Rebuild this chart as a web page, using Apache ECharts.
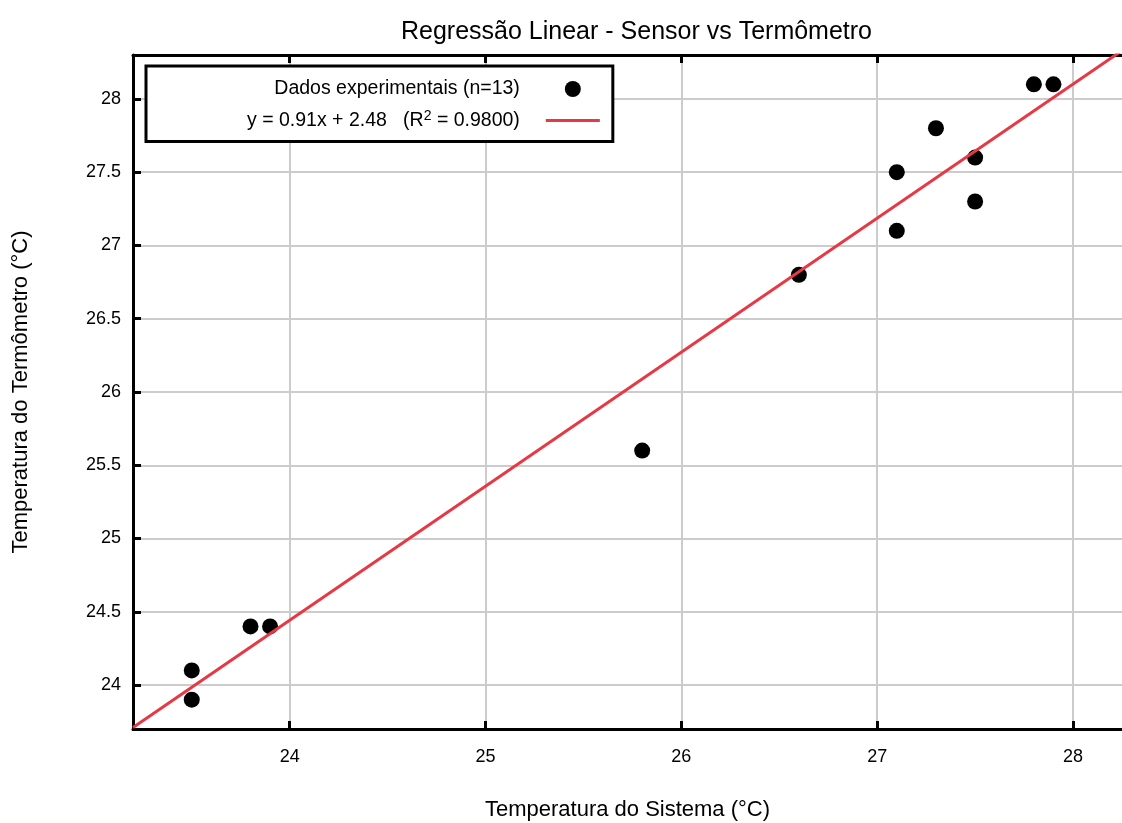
<!DOCTYPE html>
<html lang="pt">
<head>
    <meta charset="UTF-8">
    <title>Regressão Linear</title>
    <script src="https://cdn.jsdelivr.net/npm/echarts@6/dist/echarts.min.js"></script>
    <style>
        *{ margin: 0; padding: 0; }
        html,body{ width: 100%; height: 100%; background: #fff; }
        .container{ width: 1122px; height: 823px; }
    </style>
</head>
<body>
<div class="container"></div>
<script>
    // leituras do sensor (x) e do termômetro (y)
    let sensorTemp = [23.5, 23.5, 23.8, 23.9, 25.8, 26.6, 27.1, 27.1, 27.3, 27.5, 27.5, 27.8, 27.9];
    let thermoTemp = [24.1, 23.9, 24.4, 24.4, 25.6, 26.8, 27.5, 27.1, 27.8, 27.6, 27.3, 28.1, 28.1];
    // extremos da reta de regressão
    let fitX = [23.2, 28.25];
    let fitY = [23.71, 28.33];
    let xTicks = [24, 25, 26, 27, 28];
    let yTicks = [24, 24.5, 25, 25.5, 26, 26.5, 27, 27.5, 28];

    let font = 'Liberation Sans, Arial, sans-serif';
    let chart = echarts.init(document.querySelector('.container'));

    let points = sensorTemp.map((x, i) => [x, thermoTemp[i]]);
    let fitLine = fitX.map((x, i) => [x, fitY[i]]);

    let frame = {
        axisLine: { show: true, onZero: false, lineStyle: { color: '#000', width: 3 } },
        axisTick: { show: true, inside: true, length: 8, lineStyle: { color: '#000', width: 3 } }
    };

    let option = {
        backgroundColor: '#fff',
        animation: false,
        title: {
            text: 'Regressão Linear - Sensor vs Termômetro',
            left: 396,
            top: 15,
            textStyle: { fontFamily: font, fontSize: 25, fontWeight: 'normal', color: '#000' }
        },
        grid: { left: 133, right: 0, top: 55, bottom: 94, outerBoundsMode: 'none' },
        legend: {
            left: 146,
            top: 66,
            orient: 'vertical',
            align: 'right',
            itemGap: 10,
            padding: [13, 13, 11, 101],
            itemWidth: 54,
            itemHeight: 16,
            borderColor: '#000',
            borderWidth: 3,
            backgroundColor: '#fff',
            textStyle: {
                fontFamily: font, fontSize: 19.5, color: '#000',
                rich: {
                    sup: { fontFamily: font, fontSize: 14, color: '#000', verticalAlign: 'bottom', padding: [0, 0, 9, 0] },
                    n: { fontFamily: font, fontSize: 19.5, color: '#000' },
                    e: { fontFamily: font, fontSize: 19.5, color: '#000', padding: [0, 21, 0, 0] }
                }
            },
            formatter: function (name) {
                if (name.indexOf('R2') > -1) {
                    return '{n|y = 0.91x + 2.48   (R}{sup|2}{e| = 0.9800)}';
                }
                return '{e|' + name + '}';
            },
            data: [
                { name: 'Dados experimentais (n=13)', icon: 'circle' },
                { name: 'R2', icon: 'path://M0,0 L54,0 L54,3 L0,3 Z', itemStyle: { color: '#e63946' } }
            ]
        },
        xAxis: [{
            type: 'value',
            min: 23.2,
            max: 28.25,
            name: 'Temperatura do Sistema (°C)',
            nameLocation: 'middle',
            nameGap: 70,
            nameTextStyle: { fontFamily: font, fontSize: 22, color: '#000' },
            axisLine: frame.axisLine,
            axisTick: Object.assign({ customValues: xTicks }, frame.axisTick),
            axisLabel: { customValues: xTicks, margin: 19, fontFamily: font, fontSize: 18, color: '#000' },
            splitLine: { show: true, lineStyle: { color: '#cccccc', width: 2 } }
        }, {
            type: 'value',
            position: 'top',
            min: 23.2,
            max: 28.25,
            axisLine: frame.axisLine,
            axisTick: Object.assign({ customValues: xTicks }, frame.axisTick),
            axisLabel: { show: false, customValues: xTicks },
            splitLine: { show: false }
        }],
        yAxis: {
            type: 'value',
            min: 23.7,
            max: 28.3,
            name: 'Temperatura do Termômetro (°C)',
            nameLocation: 'middle',
            nameGap: 101,
            nameTextStyle: { fontFamily: font, fontSize: 22, color: '#000' },
            axisLine: frame.axisLine,
            axisTick: Object.assign({ customValues: yTicks }, frame.axisTick),
            axisLabel: { customValues: yTicks, margin: 12, fontFamily: font, fontSize: 18, color: '#000' },
            splitLine: { show: true, lineStyle: { color: '#cccccc', width: 2 } }
        },
        series: [{
            name: 'Dados experimentais (n=13)',
            type: 'scatter',
            data: points,
            symbolSize: 16,
            itemStyle: { color: '#000', opacity: 1 },
            z: 3
        }, {
            name: 'R2',
            type: 'line',
            data: fitLine,
            showSymbol: false,
            symbol: 'none',
            clip: true,
            lineStyle: { color: '#e63946', width: 3 },
            itemStyle: { color: '#e63946' },
            z: 4
        }]
    };
    chart.setOption(option);
</script>
</body>
</html>
